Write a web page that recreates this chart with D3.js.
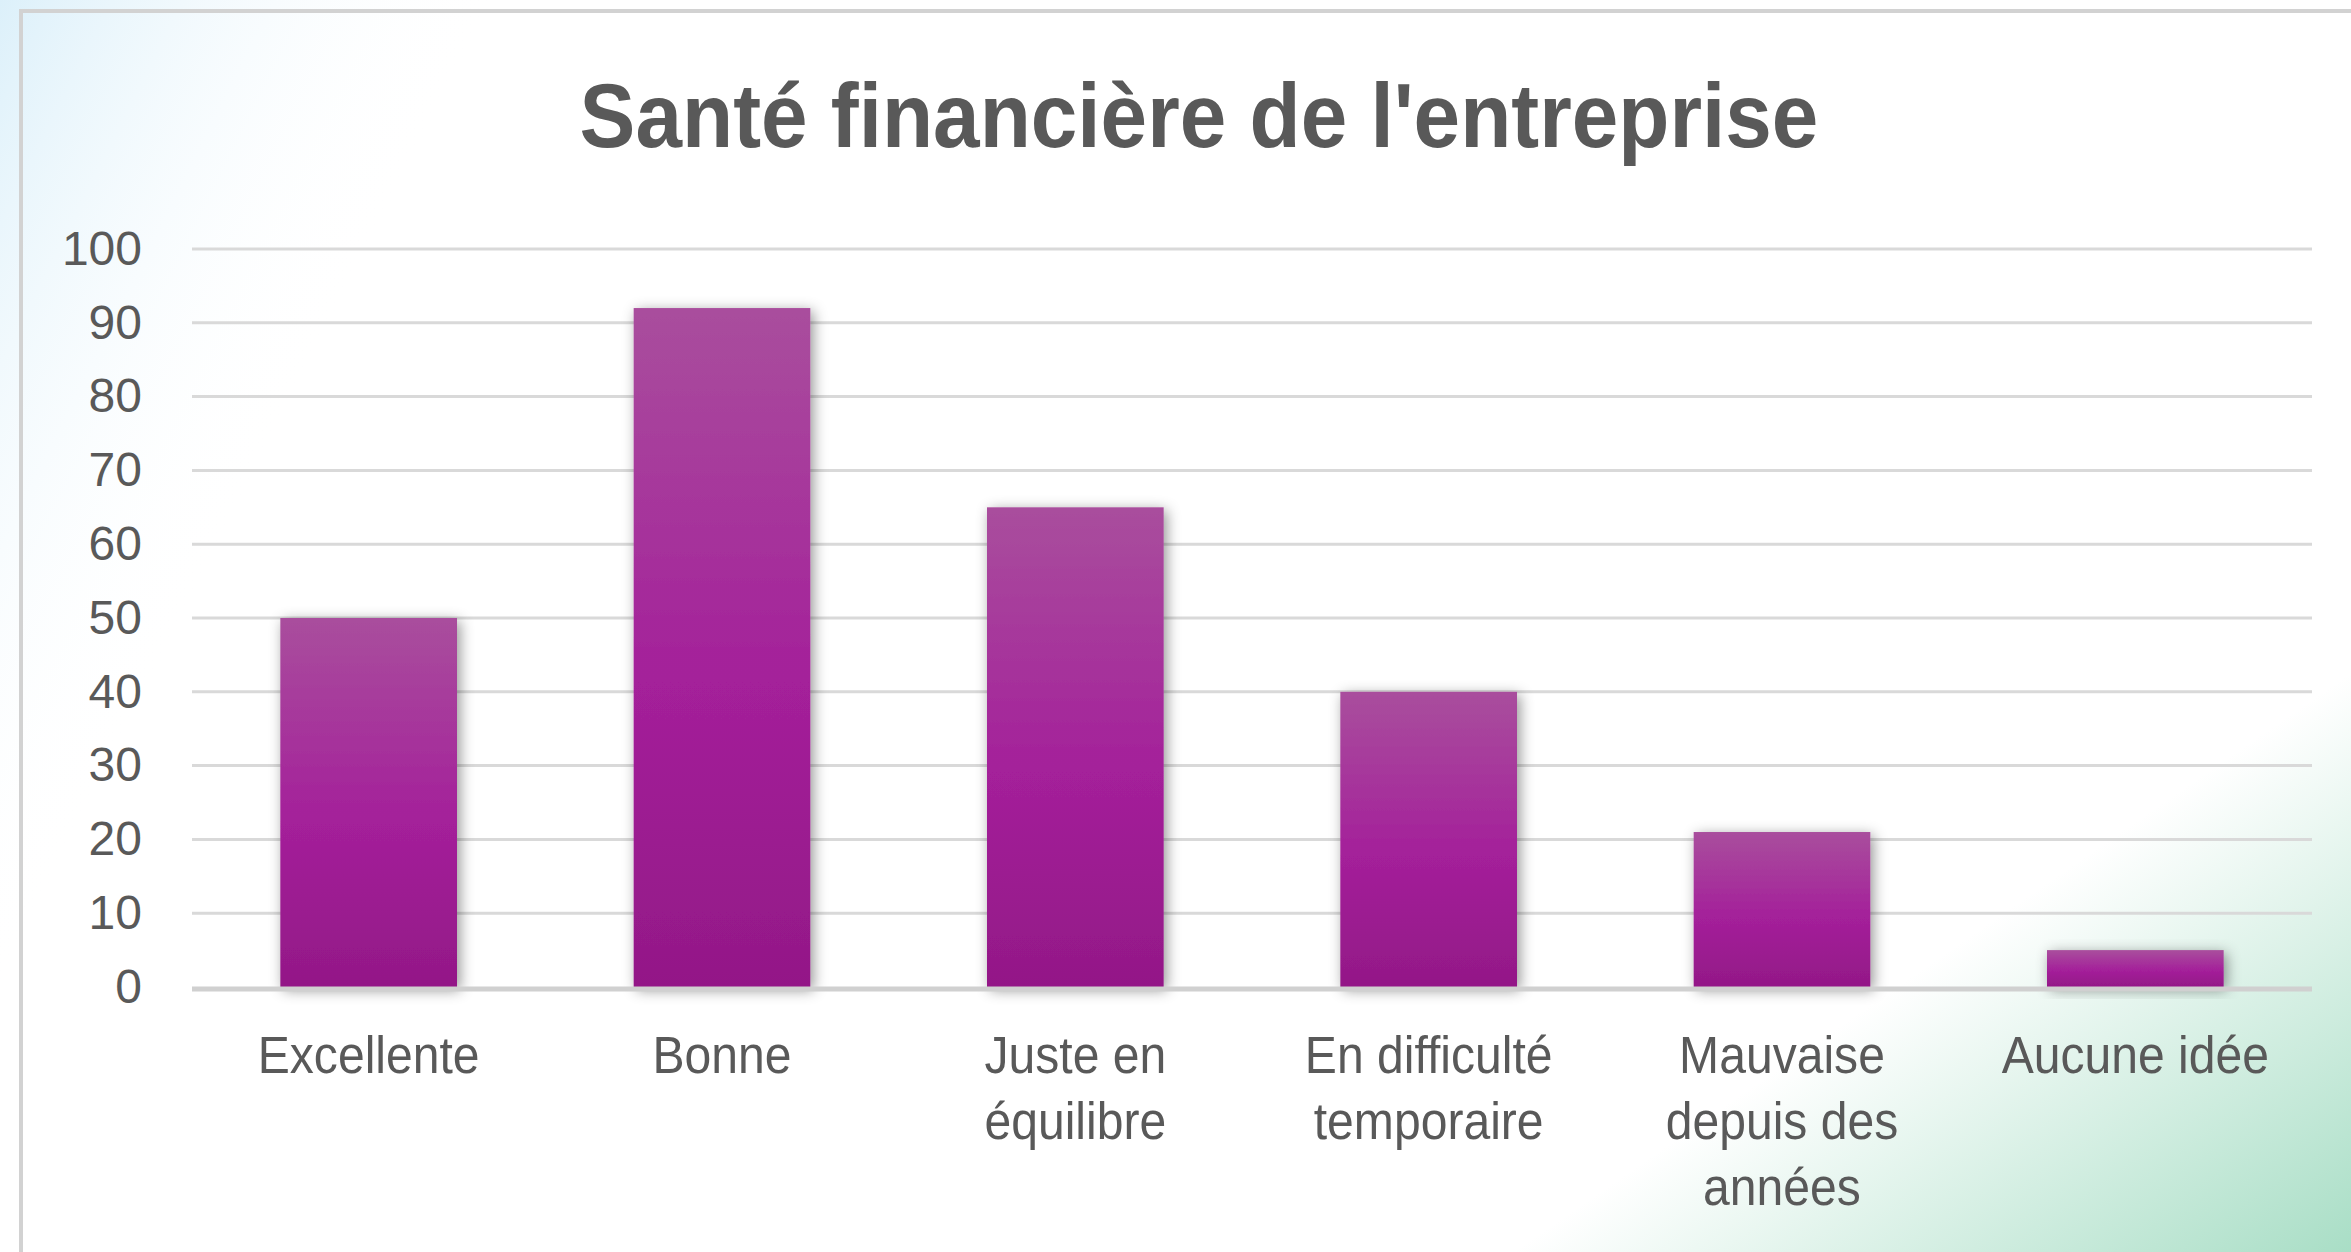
<!DOCTYPE html>
<html lang="fr">
<head>
<meta charset="UTF-8">
<title>Santé financière de l'entreprise</title>
<script src="https://cdn.jsdelivr.net/npm/d3@7/dist/d3.min.js"></script>
<style>
  html, body { margin: 0; padding: 0; background: #fff; }
  svg { display: block; }
</style>
</head>
<body>
<svg width="2351" height="1252"></svg>
<script>
// données
var categories = ["Excellente", "Bonne", "Juste en\néquilibre", "En difficulté\ntemporaire", "Mauvaise\ndepuis des\nannées", "Aucune idée"];
var values = [50, 92, 65, 40, 21, 5];
var yTicks = [0, 10, 20, 30, 40, 50, 60, 70, 80, 90, 100];
var title = "Santé financière de l'entreprise";

var svg = d3.select("svg");
var W = +svg.attr("width"), H = +svg.attr("height");
var plot = {left: 192, right: 2312, top: 249, bottom: 987};

var defs = svg.append("defs");

// fond : bleu en haut à gauche, vert en bas à droite
var gBlue = defs.append("linearGradient").attr("id", "bgBlue")
    .attr("gradientUnits", "userSpaceOnUse")
    .attr("x1", 0).attr("y1", 0).attr("x2", 400).attr("y2", 200);
gBlue.append("stop").attr("offset", 0).attr("stop-color", "#dcf0fa");
gBlue.append("stop").attr("offset", 1).attr("stop-color", "#ffffff").attr("stop-opacity", 0);

var gGreen = defs.append("linearGradient").attr("id", "bgGreen")
    .attr("gradientUnits", "userSpaceOnUse")
    .attr("x1", 2080).attr("y1", 860).attr("x2", 2351).attr("y2", 1252);
gGreen.append("stop").attr("offset", 0).attr("stop-color", "#a9dec6").attr("stop-opacity", 0);
gGreen.append("stop").attr("offset", 1).attr("stop-color", "#a9dec6");

// dégradé des barres
var gBar = defs.append("linearGradient").attr("id", "barGrad")
    .attr("x1", 0).attr("y1", 0).attr("x2", 0).attr("y2", 1);
gBar.append("stop").attr("offset", 0).attr("stop-color", "#a94e9d");
gBar.append("stop").attr("offset", 0.55).attr("stop-color", "#a4209a");
gBar.append("stop").attr("offset", 1).attr("stop-color", "#931887");

var shadow = defs.append("filter").attr("id", "shadow")
    .attr("x", "-30%").attr("y", "-30%").attr("width", "160%").attr("height", "160%");
shadow.append("feDropShadow").attr("dx", 3).attr("dy", 3)
    .attr("stdDeviation", 7).attr("flood-color", "#000").attr("flood-opacity", 0.42);

svg.append("rect").attr("width", W).attr("height", H).attr("fill", "#fff");
svg.append("rect").attr("width", W).attr("height", H).attr("fill", "url(#bgBlue)");
svg.append("rect").attr("width", W).attr("height", H).attr("fill", "url(#bgGreen)");

// cadre
svg.append("path")
    .attr("d", "M21," + H + "V11H" + W)
    .attr("fill", "none").attr("stroke", "#d2d2d2").attr("stroke-width", 4);

// échelles
var x = d3.scaleBand()
    .domain(categories)
    .range([plot.left, plot.right])
    .paddingInner(0.5).paddingOuter(0.25);

var y = d3.scaleLinear()
    .domain([0, 100])
    .range([plot.bottom, plot.top]);

// grille
svg.append("g")
    .selectAll("line")
    .data(yTicks.filter(function(d){ return d > 0; }))
    .enter().append("line")
    .attr("x1", plot.left).attr("x2", plot.right)
    .attr("y1", function(d){ return y(d); }).attr("y2", function(d){ return y(d); })
    .attr("stroke", "#d9d9d9").attr("stroke-width", 3);

// axe Y
var yAxis = svg.append("g")
    .attr("transform", "translate(" + (plot.left - 50) + ",0)")
    .call(d3.axisLeft(y).tickValues(yTicks).tickSize(0).tickPadding(0));
yAxis.select(".domain").remove();
yAxis.selectAll("text")
    .attr("fill", "#595959")
    .style("font-family", "'Liberation Sans', Arial, sans-serif")
    .style("font-size", "48px");

// barres
svg.append("g")
    .selectAll("rect")
    .data(values)
    .enter().append("rect")
    .attr("x", function(d, i){ return x(categories[i]); })
    .attr("y", function(d){ return y(d); })
    .attr("width", x.bandwidth())
    .attr("height", function(d){ return y(0) - y(d); })
    .attr("fill", "url(#barGrad)")
    .attr("filter", "url(#shadow)");

// axe X (ligne du zéro)
svg.append("line")
    .attr("x1", plot.left).attr("x2", plot.right)
    .attr("y1", y(0) + 2).attr("y2", y(0) + 2)
    .attr("stroke", "#d0d0d0").attr("stroke-width", 5);

// libellés des catégories (police resserrée horizontalement)
var xAxis = svg.append("g")
    .attr("transform", "translate(0," + y(0) + ")")
    .call(d3.axisBottom(x).tickSize(0).tickFormat(""));
xAxis.select(".domain").remove();

xAxis.selectAll(".tick").each(function(d){
    var t = d3.select(this).append("g")
        .attr("transform", "scale(0.925,1)")
        .append("text")
        .attr("text-anchor", "middle")
        .attr("fill", "#595959")
        .style("font-family", "'Liberation Sans', Arial, sans-serif")
        .style("font-size", "52px");
    d.split("\n").forEach(function(line, k){
        t.append("tspan").attr("x", 0).attr("y", 86 + k * 66).text(line);
    });
});

// titre
svg.append("g")
    .attr("transform", "translate(1199,147) scale(0.92,1)")
    .append("text")
    .attr("text-anchor", "middle")
    .attr("fill", "#595959")
    .style("font-family", "'Liberation Sans', Arial, sans-serif")
    .style("font-weight", "bold")
    .style("font-size", "91px")
    .text(title);
</script>
</body>
</html>
